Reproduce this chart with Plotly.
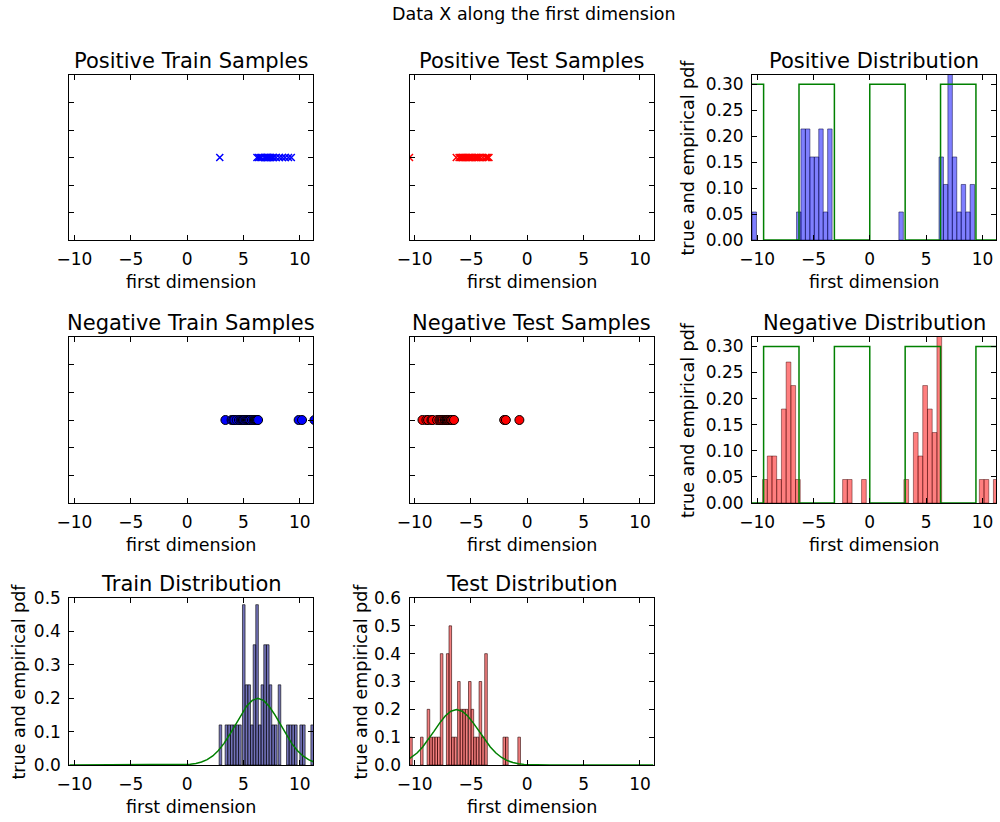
import plotly.graph_objects as go

# 1-D samples (all plotted at y = 0)
pos_train = [2.9, 6.2, 6.35, 6.48, 6.6, 6.85, 6.95, 7.02, 7.1, 7.17, 7.24, 7.3,
             7.4, 7.55, 7.68, 7.9, 8.2, 8.45, 8.7, 9.0, 9.25]
pos_test = [-10.45, -6.3, -6.05, -5.95, -5.85, -5.75, -5.68, -5.55, -5.45, -5.35,
            -5.25, -5.1, -4.98, -4.85, -4.7, -4.58, -4.5, -4.4, -4.3, -4.18,
            -3.95, -3.7, -3.6, -3.5, -3.4]
neg_train = [3.4, 3.95, 4.1, 4.2, 4.4, 4.6, 4.75, 4.85, 4.95, 5.0, 5.08, 5.2, 5.3,
             5.4, 5.5, 5.6, 5.75, 5.9, 5.98, 6.02, 6.08, 6.12, 6.18, 6.22, 6.3,
             9.9, 10.2, 11.3]
neg_test = [-9.3, -8.95, -8.8, -8.5, -8.4, -8.0, -7.8, -7.7, -7.6, -7.5, -7.35,
            -7.3, -7.2, -7.15, -7.1, -7.05, -6.95, -6.9, -6.8, -6.75, -6.65, -6.5,
            -2.05, -1.9, -0.7]

# empirical pdfs (bin centres, density heights)
pos_hist_x = [-10.25, -6.3, -5.91, -5.51, -5.12, -4.72, -4.33, -3.93, -3.54,
              2.78, 6.34, 6.73, 7.13, 7.52, 7.92, 8.31, 8.71, 9.1]
pos_hist_y = [0.054, 0.054, 0.214, 0.214, 0.16, 0.16, 0.214, 0.054, 0.214,
              0.054, 0.16, 0.107, 0.33, 0.16, 0.054, 0.107, 0.054, 0.107]
neg_hist_x = [-9.3, -8.88, -8.47, -8.05, -7.63, -7.21, -6.79, -6.38, -2.2, -1.78,
              -0.52, 3.24, 4.08, 4.49, 4.91, 5.33, 5.75, 6.17, 9.93, 10.35, 11.18]
neg_hist_y = [0.045, 0.09, 0.09, 0.045, 0.18, 0.27, 0.225, 0.045, 0.045, 0.045,
              0.045, 0.045, 0.135, 0.09, 0.225, 0.18, 0.135, 0.33, 0.045, 0.045, 0.045]
train_hist_x = [2.96, 3.49, 3.73, 3.97, 4.21, 4.45, 4.69, 5.03, 5.27, 5.51, 5.75,
                5.98, 6.21, 6.45, 6.68, 6.92, 7.16, 7.4, 7.63, 7.87, 8.2, 8.94,
                9.17, 9.41, 9.65, 10.12, 10.36, 11.1]
train_hist_y = [0.12, 0.12, 0.12, 0.12, 0.12, 0.12, 0.12, 0.48, 0.24, 0.24, 0.12,
                0.36, 0.48, 0.12, 0.24, 0.36, 0.36, 0.24, 0.12, 0.12, 0.24, 0.12,
                0.12, 0.12, 0.12, 0.12, 0.12, 0.12]
test_hist_x = [-10.32, -9.36, -8.77, -8.54, -8.31, -8.08, -7.85, -7.6, -7.06, -6.83,
               -6.6, -6.37, -6.07, -5.84, -5.61, -5.38, -5.1, -4.87, -4.64, -4.41,
               -4.16, -3.93, -3.66, -2.04, -1.81, -0.72]
test_hist_y = [0.1, 0.1, 0.2, 0.1, 0.1, 0.1, 0.1, 0.4, 0.4, 0.5, 0.1, 0.1, 0.3, 0.2,
               0.2, 0.2, 0.3, 0.2, 0.1, 0.1, 0.3, 0.1, 0.4, 0.1, 0.1, 0.1]

# true pdfs
box_pdf_x = [-10.45, -9.42, -9.42, -6.28, -6.28, -3.14, -3.14, 0, 0, 3.14, 3.14,
             6.28, 6.28, 9.42, 9.42, 11.2]
pos_pdf_y = [0.3, 0.3, 0, 0, 0.3, 0.3, 0, 0, 0.3, 0.3, 0, 0, 0.3, 0.3, 0, 0]
neg_pdf_y = [0, 0, 0.3, 0.3, 0, 0, 0.3, 0.3, 0, 0, 0.3, 0.3, 0, 0, 0.3, 0.3]
train_pdf_x = [-10.45, -2, 0.28, 0.78, 1.28, 1.78, 2.28, 2.78, 3.28, 3.78, 4.28,
               4.78, 5.28, 5.78, 6.28, 6.78, 7.28, 7.78, 8.28, 8.78, 9.28, 9.78,
               10.28, 10.78, 11.2]
train_pdf_y = [0, 0, 0.0022, 0.0046, 0.0088, 0.0159, 0.027, 0.0432, 0.0648, 0.0913,
               0.121, 0.1506, 0.176, 0.1934, 0.1995, 0.1934, 0.176, 0.1506, 0.121,
               0.0913, 0.0648, 0.0432, 0.027, 0.0159, 0.0097]
test_pdf_x = [-10.45, -9.78, -9.28, -8.78, -8.28, -7.78, -7.28, -6.78, -6.28, -5.78,
              -5.28, -4.78, -4.28, -3.78, -3.28, -2.78, -2.28, -1.78, -1.28, -0.78,
              -0.28, 2, 11.2]
test_pdf_y = [0.0228, 0.0432, 0.0648, 0.0913, 0.121, 0.1506, 0.176, 0.1934, 0.1995,
              0.1934, 0.176, 0.1506, 0.121, 0.0913, 0.0648, 0.0432, 0.027, 0.0159,
              0.0088, 0.0046, 0.0022, 0, 0]

titles = ["Positive Train Samples", "Positive Test Samples", "Positive Distribution",
          "Negative Train Samples", "Negative Test Samples", "Negative Distribution",
          "Train Distribution", "Test Distribution"]

X_RANGE = [-10.45, 11.2]
W, H = 1000, 822
cols = [(69.3, 313.3), (409.5, 653.5), (752, 996)]
rows = [(75, 240), (337, 503), (598, 765)]
ylabel_x = [18, 360, 688]
FONT = "DejaVu Sans"

fig = go.Figure()


def samples(xs, color, symbol, n):
    if symbol == "x":
        mk = dict(symbol="x-thin", size=7, line=dict(width=1.5, color=color))
    else:
        mk = dict(symbol="circle", size=9, color=color, line=dict(width=1, color="black"))
    fig.add_trace(go.Scatter(x=xs, y=[0] * len(xs), mode="markers", marker=mk,
                             xaxis="x%d" % n, yaxis="y%d" % n))


def hist(xs, ys, width, fill, edge, n):
    fig.add_trace(go.Bar(x=xs, y=ys, width=width, marker_color=fill,
                         marker_line=dict(color=edge, width=1),
                         xaxis="x%d" % n, yaxis="y%d" % n))


def curve(xs, ys, n):
    fig.add_trace(go.Scatter(x=xs, y=ys, mode="lines", line=dict(color="#008000", width=1.5),
                             xaxis="x%d" % n, yaxis="y%d" % n))


samples(pos_train, "blue", "x", 1)
samples(pos_test, "red", "x", 2)
hist(pos_hist_x, pos_hist_y, 0.395, "rgba(0,0,255,0.5)", "rgba(0,0,60,0.5)", 3)
curve(box_pdf_x, pos_pdf_y, 3)
samples(neg_train, "blue", "o", 4)
samples(neg_test, "red", "o", 5)
hist(neg_hist_x, neg_hist_y, 0.418, "rgba(255,0,0,0.5)", "rgba(60,0,0,0.45)", 6)
curve(box_pdf_x, neg_pdf_y, 6)
hist(train_hist_x, train_hist_y, 0.23, "rgba(0,0,128,0.55)", "rgba(0,0,0,0.6)", 7)
curve(train_pdf_x, train_pdf_y, 7)
hist(test_hist_x, test_hist_y, 0.23, "rgba(230,0,0,0.5)", "rgba(40,0,0,0.6)", 8)
curve(test_pdf_x, test_pdf_y, 8)

# panel -> (row, col, y range, y dtick, y format, y labels)
panels = {
    1: (0, 0, [-0.06, 0.06], 0.02, None, False),
    2: (0, 1, [-0.06, 0.06], 0.02, None, False),
    3: (0, 2, [0, 0.318], 0.05, ".2f", True),
    4: (1, 0, [-0.06, 0.06], 0.02, None, False),
    5: (1, 1, [-0.06, 0.06], 0.02, None, False),
    6: (1, 2, [0, 0.318], 0.05, ".2f", True),
    7: (2, 0, [0, 0.5], 0.1, ".1f", True),
    8: (2, 1, [0, 0.6], 0.1, ".1f", True),
}

layout = dict(width=W, height=H, margin=dict(l=0, r=0, t=0, b=0),
              paper_bgcolor="white", plot_bgcolor="white", showlegend=False,
              font=dict(family=FONT, size=17, color="black"), barmode="overlay")
common = dict(showline=True, linecolor="black", linewidth=1, mirror="allticks",
              ticks="inside", ticklen=5, tickcolor="black", showgrid=False,
              zeroline=False, automargin=False, ticklabelstandoff=4,
              tickfont=dict(size=17, color="black"))
annots = []


def text(s, px, py, size, angle=0):
    annots.append(dict(text=s, x=px / W, y=1 - py / H, xref="paper", yref="paper",
                       xanchor="center", yanchor="middle", showarrow=False,
                       textangle=angle, font=dict(size=size)))


for n, (r, c, yr, ydt, yfmt, ylab) in panels.items():
    x0, x1 = cols[c]
    y0, y1 = rows[r]
    layout["xaxis%d" % n] = dict(common, domain=[x0 / W, x1 / W], range=X_RANGE,
                                 dtick=5, tick0=0, anchor="y%d" % n)
    ya = dict(common, domain=[1 - y1 / H, 1 - y0 / H], range=yr, dtick=ydt, tick0=0,
              anchor="x%d" % n, showticklabels=ylab)
    if yfmt:
        ya["tickformat"] = yfmt
    layout["yaxis%d" % n] = ya
    text(titles[n - 1], (x0 + x1) / 2, y0 - 14, 21)
    text("first dimension", (x0 + x1) / 2, y1 + 42, 17.5)
    if ylab:
        text("true and empirical pdf", ylabel_x[c], (y0 + y1) / 2, 17.5, -90)

text("Data X along the first dimension", 534, 14, 17.5)
layout["annotations"] = annots
fig.update_layout(layout)

# drop the page's default body margin so the figure sits at the window's corner
fig.write_html("out.html", config={"displayModeBar": False},
               post_script="document.body.style.margin='0px';"
               "document.documentElement.style.overflow='hidden';")
